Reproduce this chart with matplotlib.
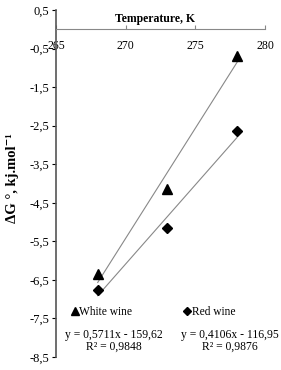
import matplotlib
matplotlib.use("Agg")
import matplotlib.pyplot as plt
import numpy as np
from matplotlib.ticker import FuncFormatter

plt.rcParams['font.family'] = ['Liberation Serif', 'DejaVu Serif']

temps = [268, 273, 278]
white = [-6.35, -4.15, -0.70]
red = [-6.75, -5.15, -2.65]
white_fit = (0.5711, -159.62)
red_fit = (0.4106, -116.95)
white_eq = "y = 0,5711x - 159,62\nR² = 0,9848"
red_eq = "y = 0,4106x - 116,95\nR² = 0,9876"
xticks = [265, 270, 275, 280]
yticks = [0.5, -0.5, -1.5, -2.5, -3.5, -4.5, -5.5, -6.5, -7.5, -8.5]

fig = plt.figure(figsize=(2.81, 3.70), dpi=100)
ax = fig.add_axes([0.199, 0.035, 0.744, 0.938])

tx = np.array([temps[0], temps[-1]])
ax.plot(tx, white_fit[0] * tx + white_fit[1], color='#888888', lw=0.8, zorder=1)
ax.plot(tx, red_fit[0] * tx + red_fit[1], color='#888888', lw=0.8, zorder=1)
ax.plot(temps, white, linestyle='none', marker='^', color='black', ms=7, label='White wine', zorder=3)
ax.plot(temps, red, linestyle='none', marker='D', color='black', ms=5.5, label='Red wine', zorder=3)

ax.set_xlim(265, 280)
ax.set_ylim(-8.5, 0.5)
ax.set_xticks(xticks)
ax.set_yticks(yticks)
fmt = FuncFormatter(lambda v, p: ("%g" % v).replace('.', ','))
ax.yaxis.set_major_formatter(fmt)
ax.xaxis.set_major_formatter(FuncFormatter(lambda v, p: "%d" % v))

for s in ['top', 'right']:
    ax.spines[s].set_visible(False)
ax.spines['bottom'].set_position(('data', 0))
ax.spines['bottom'].set_color('#888888')
ax.spines['left'].set_color('#555555')
ax.spines['left'].set_linewidth(1.2)
ax.tick_params(axis='x', direction='in', length=3, pad=8, labelsize=8.5, colors='#888888', labelcolor='black')
ax.tick_params(axis='y', direction='out', length=3, pad=2, labelsize=9, labelcolor='black')

ax.text(0.475, 0.992, "Temperature, K", transform=ax.transAxes, ha='center', va='top',
        fontsize=8.5, fontweight='bold')
fig.text(0.045, 0.519, "ΔG °, kj.mol⁻¹", rotation=90, ha='center', va='center',
         fontsize=10.5, fontweight='bold')

leg = ax.legend(loc='center', bbox_to_anchor=(0.466, 0.13), ncol=2, frameon=False,
                handlelength=0.6, handletextpad=0.1, columnspacing=4.5, fontsize=8.3,
                markerscale=0.8, borderpad=0, borderaxespad=0)

ax.text(0.278, 0.046, white_eq, transform=ax.transAxes, ha='center', va='center', fontsize=8.4, linespacing=1.0)
ax.text(0.833, 0.046, red_eq, transform=ax.transAxes, ha='center', va='center', fontsize=8.4, linespacing=1.0)

fig.savefig("out.png", dpi=100)
